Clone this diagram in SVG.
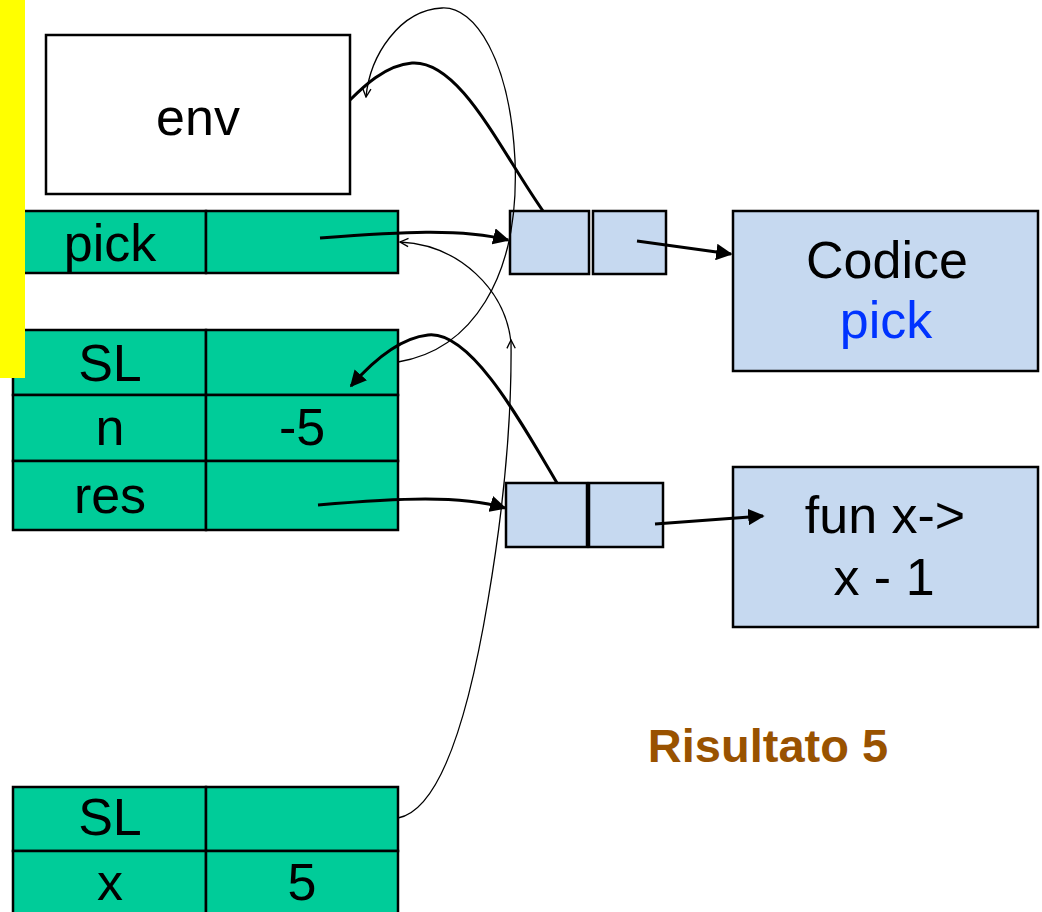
<svg xmlns="http://www.w3.org/2000/svg" width="1042" height="912" viewBox="0 0 1042 912">
  <style>
    .cell { fill: #00CC99; stroke: #000; stroke-width: 2.5; }
    .clo { fill: #C6D9F0; stroke: #000; stroke-width: 2.5; }
    .txt { font-family: "Liberation Sans", Arial, sans-serif; font-size: 52px; fill: #000; text-anchor: middle; }
    .thick { fill: none; stroke: #000; stroke-width: 3; }
    .thin { fill: none; stroke: #000; stroke-width: 1.3; }
  </style>
  <defs>
    <marker id="solid" viewBox="0 0 10 10" refX="9" refY="5" markerWidth="5.5" markerHeight="5.5" orient="auto" markerUnits="strokeWidth">
      <path d="M0,0 L10,5 L0,10 z" fill="#000"/>
    </marker>
    <marker id="open" viewBox="0 0 10 10" refX="9" refY="5" markerWidth="8" markerHeight="8" orient="auto" markerUnits="strokeWidth">
      <path d="M1,1 L9,5 L1,9" fill="none" stroke="#000" stroke-width="1.3"/>
    </marker>
  </defs>

  <rect width="1042" height="912" fill="#fff"/>

  <!-- environment box -->
  <g id="env">
    <rect x="46" y="35" width="304" height="159" fill="#fff" stroke="#000" stroke-width="2.5"/>
    <text class="txt" x="198" y="135">env</text>
  </g>

  <!-- pick binding -->
  <g id="frame-pick">
    <rect class="cell" x="13" y="211" width="193" height="62"/>
    <rect class="cell" x="206" y="211" width="192" height="62"/>
    <text class="txt" x="110" y="261">pick</text>
  </g>

  <!-- activation record of pick -->
  <g id="frame-call">
    <rect class="cell" x="13" y="330" width="193" height="65"/>
    <rect class="cell" x="206" y="330" width="192" height="65"/>
    <rect class="cell" x="13" y="395" width="193" height="66"/>
    <rect class="cell" x="206" y="395" width="192" height="66"/>
    <rect class="cell" x="13" y="461" width="193" height="69"/>
    <rect class="cell" x="206" y="461" width="192" height="69"/>
    <text class="txt" x="110" y="381">SL</text>
    <text class="txt" x="110" y="445">n</text>
    <text class="txt" x="302" y="445">-5</text>
    <text class="txt" x="110" y="513">res</text>
  </g>

  <!-- activation record of the returned function -->
  <g id="frame-fun">
    <rect class="cell" x="13" y="787" width="193" height="64"/>
    <rect class="cell" x="206" y="787" width="192" height="64"/>
    <rect class="cell" x="13" y="851" width="193" height="70"/>
    <rect class="cell" x="206" y="851" width="192" height="70"/>
    <text class="txt" x="110" y="835">SL</text>
    <text class="txt" x="110" y="900">x</text>
    <text class="txt" x="302" y="900">5</text>
  </g>

  <!-- highlight bar -->
  <rect id="highlight" x="0" y="0" width="25" height="378" fill="#FFFF00"/>

  <!-- closures -->
  <g id="closure-pick">
    <rect class="clo" x="510" y="211" width="79" height="63"/>
    <rect class="clo" x="593" y="211" width="73" height="63"/>
  </g>
  <g id="closure-fun">
    <rect class="clo" x="506" y="483" width="81" height="64"/>
    <rect class="clo" x="589" y="483" width="74" height="64"/>
  </g>

  <!-- code boxes -->
  <g id="code-pick">
    <rect class="clo" x="733" y="211" width="305" height="160"/>
    <text class="txt" x="887" y="278">Codice</text>
    <text class="txt" x="886" y="338" style="fill:#0033FF">pick</text>
  </g>
  <g id="code-fun">
    <rect class="clo" x="733" y="467" width="305" height="160"/>
    <text class="txt" x="885" y="533">fun x-&gt;</text>
    <text class="txt" x="884" y="595">x - 1</text>
  </g>

  <!-- result -->
  <text id="result" x="768" y="762" font-family="'Liberation Sans', Arial, sans-serif" font-size="47" font-weight="bold" fill="#995200" text-anchor="middle">Risultato 5</text>

  <!-- connectors -->
  <g id="connectors">
    <path class="thick" d="M320,238 C400,232 460,228 508,240" marker-end="url(#solid)"/>
    <path class="thick" d="M543,211 C500,150 460,60 412,63 C385,65 362,88 350,100"/>
    <path class="thick" d="M637,241 L731,254" marker-end="url(#solid)"/>
    <path class="thick" d="M318,505 C400,498 460,495 505,508" marker-end="url(#solid)"/>
    <path class="thick" d="M557,483 C520,420 470,330 428,335 C400,338 372,362 351,386" marker-end="url(#solid)"/>
    <path class="thick" d="M655,524 L763,516" marker-end="url(#solid)"/>
    <path class="thin" d="M398,362 C470,350 520,280 515,160 C510,60 475,6 442,8 C400,10 370,55 366,97" marker-end="url(#open)"/>
    <path class="thin" d="M398,818 C440,810 468,720 488,600 C505,500 512,420 511,340" marker-end="url(#open)"/>
    <path class="thin" d="M511,342 C505,290 460,245 400,242" marker-end="url(#open)"/>
  </g>
</svg>
